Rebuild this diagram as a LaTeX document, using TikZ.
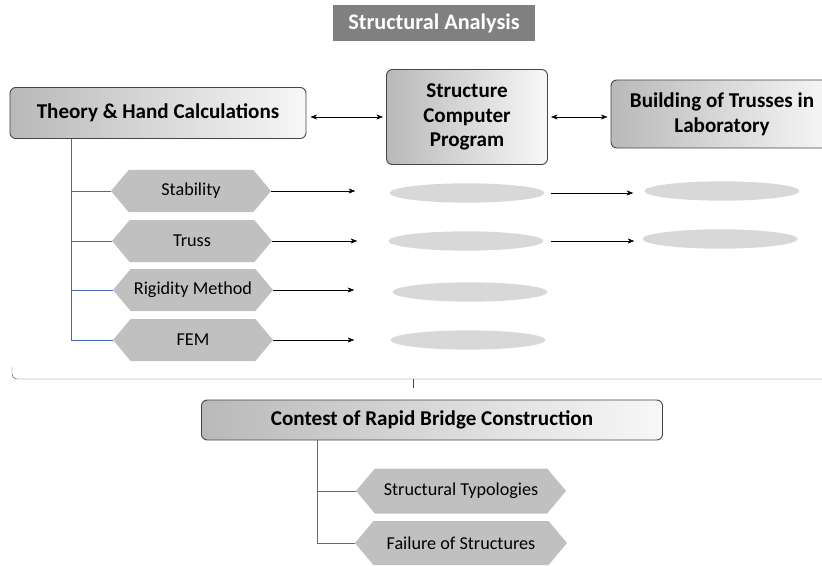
\documentclass[tikz,border=0pt]{standalone}
\usepackage{fontspec}
\setmainfont{Carlito}
\usetikzlibrary{shapes.geometric, shapes.symbols, arrows.meta, positioning, calc}
\definecolor{titlegray}{RGB}{128,128,128}
\definecolor{hexgray}{RGB}{192,192,192}
\definecolor{ovalgray}{RGB}{216,216,216}
\definecolor{treeblue}{RGB}{66,106,188}
\definecolor{boxedge}{RGB}{70,70,70}

\begin{document}
\begin{tikzpicture}[
    x=0.03cm, y=-0.03cm,
    mainbox/.style={rectangle, draw=boxedge, line width=0.8pt, rounded corners=5pt, left color=gray!55, right color=gray!6, align=center, font=\bfseries\fontsize{18}{21}\selectfont},
    hexa/.style={signal, signal to=west and east, signal pointer angle=100, fill=hexgray, minimum width=4.8cm, minimum height=1.26cm, inner xsep=0pt, font=\fontsize{15.5}{17}\selectfont},
    oval/.style={ellipse, fill=ovalgray, minimum width=4.65cm, minimum height=0.58cm, inner sep=0pt},
    arrow/.style={-{Stealth[length=2mm]}, thin},
    dblarrow/.style={{Stealth[length=2mm]}-{Stealth[length=2mm]}, thin},
    tree/.style={draw=treeblue, line width=0.8pt}
]
    \useasboundingbox (0,0) rectangle (822,565);

    % Title
    \node[rectangle, fill=titlegray, text=white, font=\bfseries\fontsize{19}{21}\selectfont, minimum width=6.06cm, minimum height=1.08cm] (title) at (434,23) {Structural Analysis};

    % Main blocks
    \node[mainbox, minimum width=8.88cm, minimum height=1.53cm] (theory) at (158,113) {Theory \& Hand Calculations};
    \node[mainbox, minimum width=4.83cm, minimum height=2.85cm] (comp) at (467,117) {Structure\\Computer\\Program};
    \node[mainbox, minimum width=6.66cm, minimum height=2.04cm] (build) at (722,114) {Building of Trusses in\\Laboratory};

    \draw[dblarrow] ($(theory.east)+(4,4)$) -- ($(comp.west)+(-3,0)$);
    \draw[dblarrow] ($(comp.east)+(3,0)$) -- ($(comp.east -| build.west)+(-3,0)$);

    % Topics
    \node[hexa] (stab) at (191,191) {Stability};
    \node[hexa] (truss) at (192,241) {Truss};
    \node[hexa] (rigid) at (193,290) {Rigidity Method};
    \node[hexa] (fem) at (193,340) {FEM};

    \coordinate (trunka) at ($(theory.south west)+(62,0)$);
    \draw[tree] (trunka) |- (fem.west);
    \foreach \t in {stab, truss, rigid}
        \draw[tree] (trunka |- \t.west) -- (\t.west);

    % Results
    \node[oval] (ova) at (467,193) {};
    \node[oval] (ovb) at (466,241) {};
    \node[oval] (ovc) at (470,292) {};
    \node[oval] (ovd) at (468,340) {};
    \node[oval] (ove) at (722,191) {};
    \node[oval] (ovf) at (720,239) {};

    \draw[arrow] (stab.east) -- ($(stab.east -| ova.west)+(-34,0)$);
    \draw[arrow] (truss.east) -- ($(truss.east -| ovb.west)+(-31,0)$);
    \draw[arrow] (rigid.east) -- ($(rigid.east -| ovc.west)+(-38,0)$);
    \draw[arrow] (fem.east) -- ($(fem.east -| ovd.west)+(-36,0)$);
    \draw[arrow] ($(ova.east)+(6,0)$) -- ($(ova.east -| ove.west)+(-11,0)$);
    \draw[arrow] ($(ovb.east)+(7,0)$) -- ($(ovb.east -| ovf.west)+(-8,0)$);

    % Brace
    \coordinate (bracemid) at (413,379);
    \draw[gray!60!black, thin, rounded corners=4pt] (12,367) |- (bracemid) -- (830,379);
    \draw[gray!60!black, thin] (bracemid) -- ++(0,9);

    % Contest
    \node[mainbox, minimum width=13.83cm, minimum height=1.2cm] (contest) at (432,420) {Contest of Rapid Bridge Construction};

    \node[hexa, minimum width=6.3cm, minimum height=1.35cm] (typo) at (461,491) {Structural Typologies};
    \node[hexa, minimum width=6.36cm, minimum height=1.32cm] (fail) at (461,543) {Failure of Structures};

    \coordinate (trunkb) at ($(contest.south west)+(116,0)$);
    \draw[tree] (trunkb) |- (fail.west);
    \draw[tree] (trunkb |- typo.west) -- (typo.west);
\end{tikzpicture}
\end{document}
